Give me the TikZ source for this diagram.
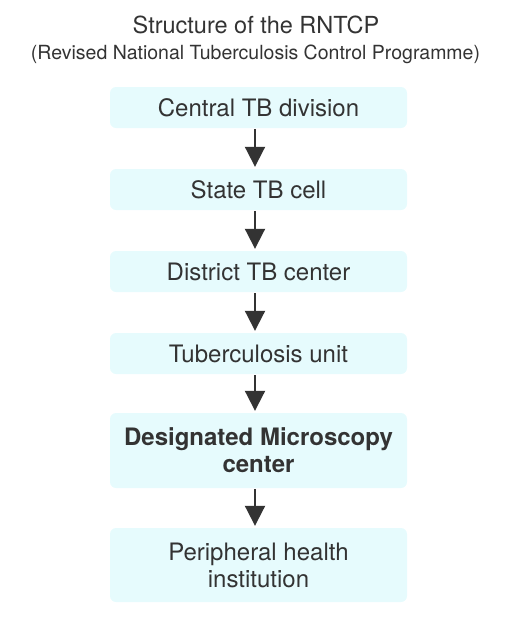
\documentclass[tikz,border=0pt]{standalone}
\usepackage{fontspec}
\setmainfont{TeX Gyre Heros}
\usetikzlibrary{arrows.meta}
\definecolor{boxfill}{HTML}{E6FBFD}
\definecolor{ink}{HTML}{333333}
\begin{document}
\begin{tikzpicture}[x=1pt,y=-1pt,
  level/.style={fill=boxfill,rounded corners=6pt,minimum width=297pt,text=ink,align=center,font=\fontsize{24}{27}\selectfont,inner sep=0pt},
  link/.style={draw=ink,line width=2pt,-{Triangle[length=20pt,width=20pt]}}]
\useasboundingbox (0,0) rectangle (509,630);
\node[text=ink,anchor=base,inner sep=0pt,font=\fontsize{23.5}{26}\selectfont] (title) at (256,33.5) {Structure of the RNTCP};
\node[text=ink,anchor=base,inner sep=0pt,font=\fontsize{19.5}{22}\selectfont] (sub) at (255.5,59) {(Revised National Tuberculosis Control Programme)};
\node[level,minimum height=41pt] (n1) at (258.5,107.5) {Central TB division};
\node[level,minimum height=41pt] (n2) at (258.5,189.5) {State TB cell};
\node[level,minimum height=41pt] (n3) at (258.5,271.5) {District TB center};
\node[level,minimum height=41pt] (n4) at (258.5,353.5) {Tuberculosis unit};
\node[level,minimum height=75pt,font=\fontsize{24}{27}\selectfont\bfseries] (n5) at (258.5,450.5) {Designated Microscopy\\center};
\node[level,minimum height=74pt] (n6) at (258.5,565) {Peripheral health\\institution};
\draw[link] (n1.south -| 255,0) ++(0,1) -- ([yshift=2pt]n2.north -| 255,0);
\draw[link] (n2.south -| 255,0) ++(0,1) -- ([yshift=2pt]n3.north -| 255,0);
\draw[link] (n3.south -| 255,0) ++(0,1) -- ([yshift=2pt]n4.north -| 255,0);
\draw[link] (n4.south -| 255,0) ++(0,1) -- ([yshift=2pt]n5.north -| 255,0);
\draw[link] (n5.south -| 255,0) ++(0,1) -- ([yshift=2pt]n6.north -| 255,0);
\end{tikzpicture}
\end{document}
